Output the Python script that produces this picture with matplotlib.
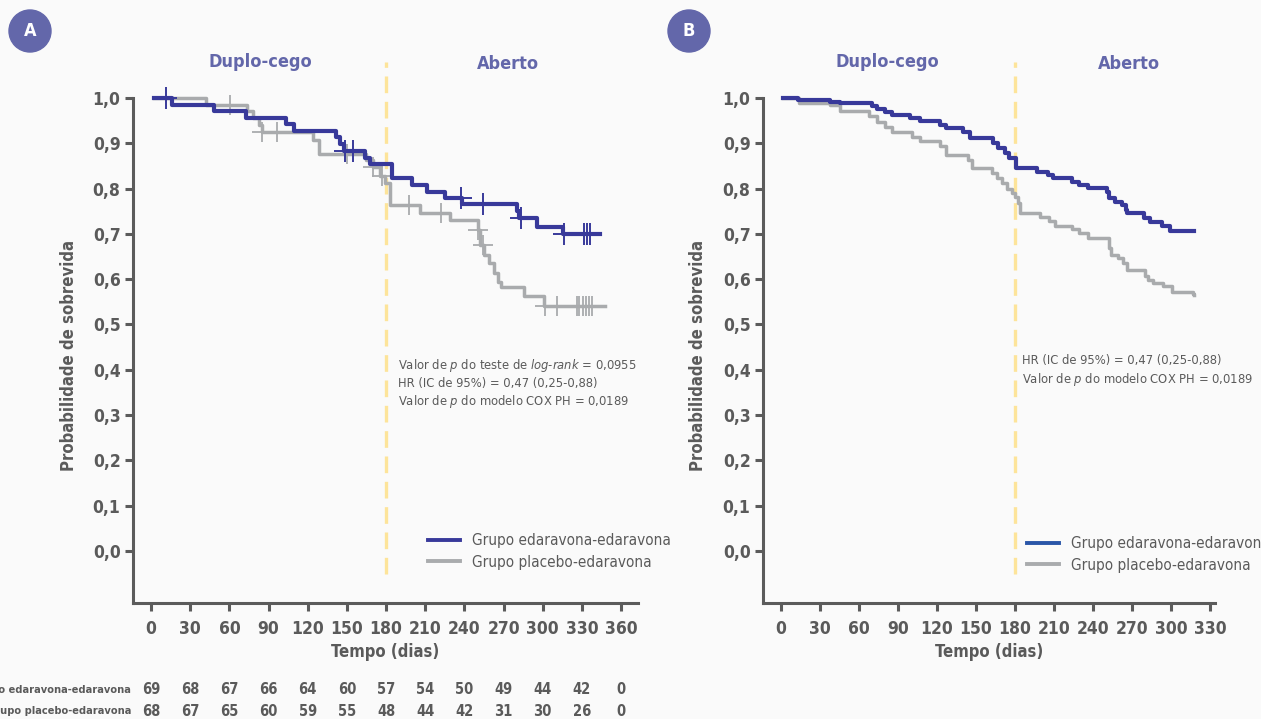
import numpy as np
import matplotlib
matplotlib.use("Agg")
import matplotlib.pyplot as plt
from matplotlib.lines import Line2D
from matplotlib.patches import Ellipse
from matplotlib import font_manager

# fonte estreita se houver
fl = font_manager.fontManager.ttflist
names = {f.name for f in fl}
stretch = 'normal'
if "Liberation Sans Narrow" in names:
    narrow = "Liberation Sans Narrow"
elif any(f.name == "DejaVu Sans" and f.stretch == 'condensed' for f in fl):
    narrow = "DejaVu Sans"
    stretch = 'condensed'
else:
    narrow = "Roboto"
plt.rcParams['font.family'] = [narrow, 'DejaVu Sans']
plt.rcParams['font.stretch'] = stretch
plt.rcParams['mathtext.fontset'] = 'custom'
plt.rcParams['mathtext.rm'] = narrow
plt.rcParams['mathtext.it'] = narrow + ':italic'

# ---- dados painel A ----
blue_a_t = [2, 16, 48, 73, 103, 109.5, 142, 145, 148, 164, 168, 184.5, 200, 211, 225, 238, 280, 282, 295.5, 315.5, 344]
blue_a_s = [1.0, 0.985, 0.971, 0.956, 0.942, 0.928, 0.913, 0.899, 0.884, 0.868, 0.854, 0.824, 0.808, 0.793, 0.779,
            0.766, 0.75, 0.735, 0.715, 0.70, 0.70]
blue_a_cens = [11.5, 148.5, 155, 237, 254, 283, 316, 331.5, 333.6, 336]

gray_a_t = [2, 42, 73.5, 78, 83, 85, 124, 129, 165, 170, 175, 179, 183, 206, 229, 250, 252, 255, 259, 263, 266,
            268, 285.6, 301, 348]
gray_a_s = [1.0, 0.985, 0.971, 0.956, 0.94, 0.926, 0.907, 0.876, 0.862, 0.848, 0.827, 0.812, 0.764, 0.746, 0.73,
            0.709, 0.675, 0.653, 0.636, 0.614, 0.594, 0.583, 0.563, 0.541, 0.541]
gray_a_cens = [60.5, 85, 96.5, 150, 170, 177, 197.5, 222, 250, 254, 302, 311, 326, 327.7, 331, 333, 335, 338]

# ---- dados painel B ----
blue_b_t = [1.5, 13, 38, 45, 70, 74, 80, 85, 99, 107, 122, 127, 140, 145, 163, 167, 172, 175, 181, 197, 205, 209,
            224, 229, 236, 251, 252, 257, 262, 265, 266, 279, 284, 293, 299, 318]
blue_b_s = [1.0, 0.995, 0.992, 0.988, 0.982, 0.975, 0.970, 0.962, 0.955, 0.949, 0.940, 0.934, 0.926, 0.911, 0.900,
            0.889, 0.879, 0.868, 0.845, 0.837, 0.830, 0.823, 0.815, 0.808, 0.802, 0.793, 0.779, 0.771, 0.764,
            0.753, 0.745, 0.734, 0.727, 0.717, 0.707, 0.707]

gray_b_t = [1.5, 14, 38, 45, 68, 74, 80, 85, 101, 107, 122, 127, 144, 147, 162, 166, 170, 174, 178, 180, 182, 184,
            199, 206, 211, 224, 229, 236, 252, 254, 259, 263, 266, 280, 282, 286, 294, 301, 317, 318]
gray_b_s = [1.0, 0.99, 0.985, 0.972, 0.960, 0.948, 0.937, 0.926, 0.913, 0.904, 0.893, 0.874, 0.863, 0.845, 0.834,
            0.823, 0.812, 0.80, 0.790, 0.782, 0.768, 0.747, 0.738, 0.729, 0.717, 0.710, 0.701, 0.690, 0.668,
            0.653, 0.646, 0.635, 0.620, 0.607, 0.598, 0.591, 0.584, 0.572, 0.567, 0.565]

# numero em risco (painel A)
risk_days = list(range(0, 361, 30))
risk_edar = [69, 68, 67, 66, 64, 60, 57, 54, 50, 49, 44, 42, 0]
risk_plac = [68, 67, 65, 60, 59, 55, 48, 44, 42, 31, 30, 26, 0]
row_labels = ["Grupo edaravona-edaravona", "Grupo placebo-edaravona"]

yticks = np.round(np.arange(0, 1.01, 0.1), 1)

BG = "#fafafa"
BLUE = "#38399a"
GRAY = "#a9abad"
PURPLE = "#6367aa"
AX = "#5b5b5b"
TXT = "#5a5a5a"
YEL = "#fde49a"

W, H = 1261, 719
fig = plt.figure(figsize=(W / 100, H / 100), dpi=100, facecolor=BG)


def px_axes(left, right, top, bottom):
    return fig.add_axes([left / W, 1 - bottom / H, (right - left) / W, (bottom - top) / H])


def step_at(t, s, x):
    i = np.searchsorted(t, x, side='right') - 1
    return np.asarray(s)[np.clip(i, 0, len(s) - 1)]


def setup(ax, xmax_tick, xlim):
    ax.set_facecolor(BG)
    ax.set_xlim(*xlim)
    ax.set_ylim(-0.115, 1.03)
    for sp in ['top', 'right']:
        ax.spines[sp].set_visible(False)
    for sp in ['left', 'bottom']:
        ax.spines[sp].set_color(AX)
        ax.spines[sp].set_linewidth(2.2)
    ax.spines['left'].set_bounds(-0.115, 1.0)
    ax.set_yticks(yticks)
    ax.set_yticklabels([f"{v:.1f}".replace('.', ',') for v in yticks])
    ax.set_xticks(range(0, xmax_tick + 1, 30))
    ax.tick_params(axis='both', colors=AX, width=2.2, length=6, labelsize=12.5, labelcolor=TXT)
    ax.tick_params(axis='x', pad=6)
    ax.tick_params(axis='y', pad=3)
    for lab in ax.get_xticklabels() + ax.get_yticklabels():
        lab.set_fontweight('bold')
    ax.set_ylabel("Probabilidade de sobrevida", fontsize=12, fontweight='bold', color=TXT)
    ax.text(0.5, -0.094, "Tempo (dias)", transform=ax.transAxes, ha='center', va='center',
            fontsize=12, fontweight='bold', color=TXT)
    ax.plot([180, 180], [-0.05, 1.08], color=YEL, lw=2.4, ls=(0, (5, 2.6)), clip_on=False, zorder=1)


def legend(ax, handles, left_px, ax_left, ax_w, mid_px):
    ax.legend(handles, row_labels, loc='center left',
              bbox_to_anchor=((left_px - ax_left) / ax_w, (603 - mid_px) / 518.6),
              frameon=False, fontsize=11, handlelength=2.1, handletextpad=0.75, labelspacing=0.42,
              borderpad=0, borderaxespad=0, labelcolor=TXT)


# ---------- painel A ----------
axA = px_axes(133, 638, 84.4, 603)
setup(axA, 360, (-13.8, 372.9))
axA.yaxis.set_label_coords(-0.108, 0.478)
axA.step(gray_a_t, gray_a_s, where='post', color=GRAY, lw=2.5, zorder=3)
axA.plot(gray_a_cens, step_at(gray_a_t, gray_a_s, gray_a_cens), ls='none', marker='+', ms=15, mew=1.3,
         color=GRAY, zorder=3)
axA.step(blue_a_t, blue_a_s, where='post', color=BLUE, lw=3.0, zorder=4, clip_on=False)
axA.plot(blue_a_cens, step_at(blue_a_t, blue_a_s, blue_a_cens), ls='none', marker='+', ms=16, mew=1.4,
         color=BLUE, zorder=4, clip_on=False)
axA.text(83.5, 1.08, "Duplo-cego", ha='center', va='center', fontsize=13, fontweight='bold', color=PURPLE)
axA.text(273, 1.075, "Aberto", ha='center', va='center', fontsize=13, fontweight='bold', color=PURPLE)
annA = ["Valor de $p$ do teste de $log$-$rank$ = 0,0955",
        "HR (IC de 95%) = 0,47 (0,25-0,88)",
        "Valor de $p$ do modelo COX PH = 0,0189"]
for i, s in enumerate(annA):
    axA.text(189, 0.41 - i * 0.0397, s, ha='left', va='center', fontsize=9.3, color=TXT)

hA = [Line2D([], [], color=BLUE, lw=2.8), Line2D([], [], color=GRAY, lw=2.8)]
legend(axA, hA, 428, 133, 505, 551.5)

# numero em risco
for r, (lab, vals) in enumerate(zip(row_labels, [risk_edar, risk_plac])):
    ypx = 690 + r * 21
    fig.text(131 / W, 1 - ypx / H, lab, ha='right', va='center', fontsize=7.9, fontweight='bold', color=TXT)
    for d, v in zip(risk_days, vals):
        xpx = 151 + d * 470 / 360
        fig.text(xpx / W, 1 - ypx / H, str(v), ha='center', va='center', fontsize=10.5, fontweight='bold',
                 color=TXT)

# ---------- painel B ----------
axB = px_axes(763, 1215, 84.4, 603)
setup(axB, 330, (-13.85, 333.8))
axB.yaxis.set_label_coords(-0.124, 0.478)
axB.step(gray_b_t, gray_b_s, where='post', color=GRAY, lw=2.5, zorder=3)
axB.step(blue_b_t, blue_b_s, where='post', color=BLUE, lw=3.0, zorder=4, clip_on=False)
axB.text(82, 1.08, "Duplo-cego", ha='center', va='center', fontsize=13, fontweight='bold', color=PURPLE)
axB.text(268, 1.075, "Aberto", ha='center', va='center', fontsize=13, fontweight='bold', color=PURPLE)
annB = ["HR (IC de 95%) = 0,47 (0,25-0,88)",
        "Valor de $p$ do modelo COX PH = 0,0189"]
for i, s in enumerate(annB):
    axB.text(185, 0.42 - i * 0.042, s, ha='left', va='center', fontsize=9.3, color=TXT)
hB = [Line2D([], [], color="#2a56a8", lw=2.8), Line2D([], [], color=GRAY, lw=2.8)]
legend(axB, hB, 1027, 763, 452, 554.5)

# circulos A / B
for cx, letter in [(30, "A"), (689, "B")]:
    fig.patches.append(Ellipse((cx / W, 1 - 31 / H), 42 / W, 42 / H, transform=fig.transFigure, color=PURPLE,
                               zorder=5))
    fig.text(cx / W, 1 - 31 / H, letter, ha='center', va='center', fontsize=13, fontweight='bold',
             color='white', zorder=6)

fig.savefig("out.png", dpi=100, facecolor=BG)
